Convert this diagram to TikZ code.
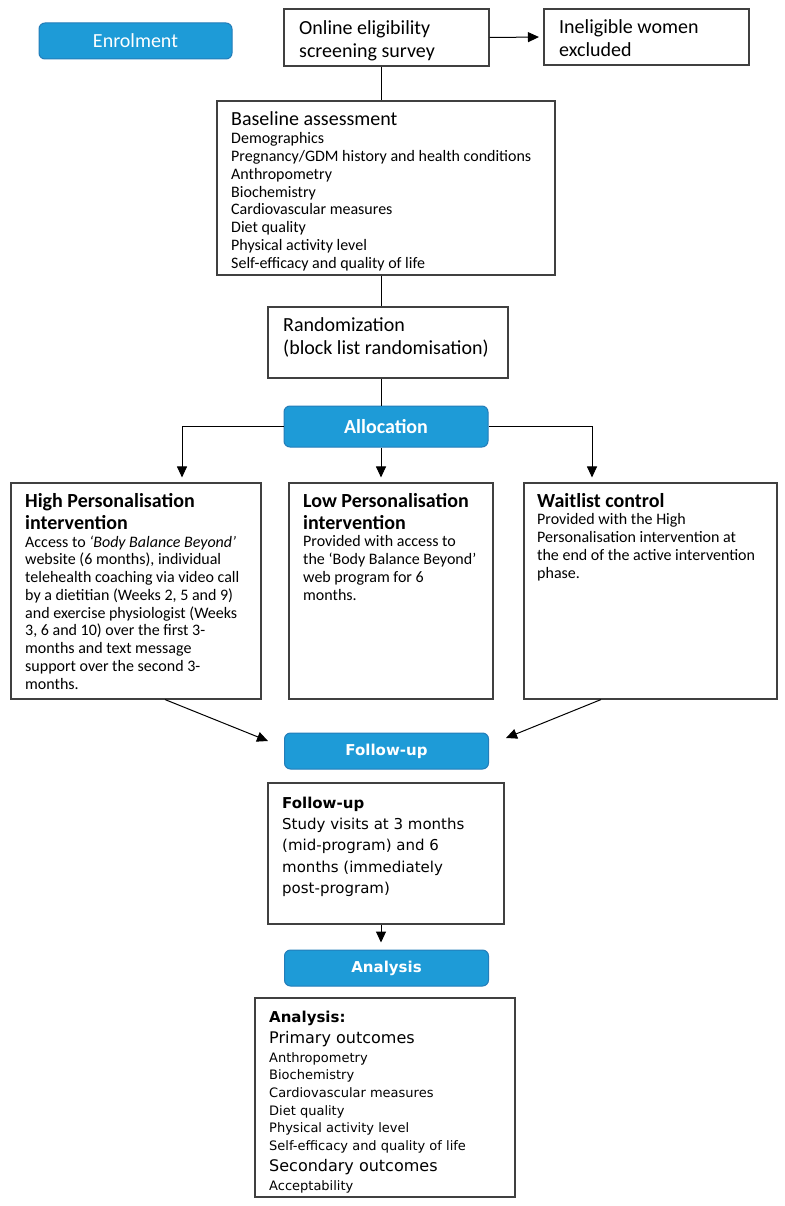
\documentclass[tikz,border=0pt]{standalone}
\usepackage{fontspec}
\setmainfont{Carlito}
\newfontfamily\vfont{DejaVu Sans}
\usetikzlibrary{arrows.meta}
\definecolor{stageblue}{RGB}{30,155,215}
\definecolor{stageedge}{RGB}{35,125,185}
\begin{document}
\begin{tikzpicture}[x=1pt, y=-1pt,
  stage/.style={draw=stageedge, fill=stageblue, line width=1pt, rounded corners=6pt, text=white, minimum width=204pt, minimum height=36pt, inner sep=0pt},
  box/.style={draw=black!75, line width=1.1pt, inner sep=0pt},
  txt/.style={anchor=north west, align=left, inner sep=0pt, font=\fontsize{16}{17.75}\selectfont},
  head/.style={txt, font=\fontsize{20}{23.3}\selectfont},
  bhead/.style={txt, font=\bfseries\fontsize{20}{21.5}\selectfont},
  vtxt/.style={txt, font=\vfont\fontsize{15}{21.3}\selectfont},
  link/.style={line width=1pt},
  arr/.style={link, -{Triangle[length=11pt, width=10pt]}}]
\path[fill=white, use as bounding box] (0,0) rectangle (784,1206);

% stages
\node[stage, minimum width=193pt, font=\fontsize{20}{24}\selectfont] (enrol) at (135.5,41) {Enrolment};
\node[stage, minimum height=41pt, font=\bfseries\fontsize{20}{24}\selectfont] (alloc) at (386,426.5) {Allocation};
\node[stage, font=\vfont\bfseries\fontsize{15}{18}\selectfont] (fup) at (386.5,751) {Follow-up};
\node[stage, font=\vfont\bfseries\fontsize{15}{18}\selectfont] (anl) at (386.5,968) {Analysis};

% boxes
\node[box, minimum width=205pt, minimum height=57pt] (online) at (386.5,37.5) {};
\node[box, minimum width=205pt, minimum height=56pt] (inel) at (646.5,37) {};
\node[box, minimum width=338pt, minimum height=174pt] (base) at (386,188) {};
\node[box, minimum width=240pt, minimum height=71pt] (rand) at (388,342.5) {};
\foreach \n/\x/\w in {high/136/250, low/391/204, wait/650.5/253}
  \node[box, minimum width=\w pt, minimum height=216pt] (\n) at (\x,591) {};
\node[box, minimum width=236pt, minimum height=141pt] (fbox) at (386,853.5) {};
\node[box, minimum width=260pt, minimum height=199pt] (abox) at (385,1097.5) {};

% texts
\node[head] (onlinet) at (299,20.6) {Online eligibility\\screening survey};
\node[head] (inelt) at (559,19.5) {Ineligible women\\excluded};
\node[head] (baset) at (231,111) {Baseline assessment};
\foreach \t [count=\i from 0] in {Demographics, Pregnancy/GDM history and health conditions,
  Anthropometry, Biochemistry, Cardiovascular measures, Diet quality,
  Physical activity level, Self-efficacy and quality of life}
  \node[txt] (b\i) at (231,{132.5+17.75*\i}) {\t};
\node[head] (randt) at (283,317.6) {Randomization\\(block list randomisation)};

\node[bhead] (hight) at (25,493.6) {High Personalisation\\intervention};
\node[txt] (highb) at (25,535.5) {Access to \textit{‘Body Balance Beyond’}\\
  website (6 months), individual\\telehealth coaching via video call\\
  by a dietitian (Weeks 2, 5 and 9)\\and exercise physiologist (Weeks\\
  3, 6 and 10) over the first 3-\\months and text message\\
  support over the second 3-\\months.};
\node[bhead] (lowt) at (303,493.6) {Low Personalisation\\intervention};
\node[txt] (lowb) at (303,535.5) {Provided with access to\\the ‘Body Balance Beyond’\\
  web program for 6\\months.};
\node[bhead] (waitt) at (537,493.6) {Waitlist control};
\node[txt] (waitb) at (537,513.5) {Provided with the High\\Personalisation intervention at\\
  the end of the active intervention\\phase.};

\node[vtxt, font=\vfont\bfseries\fontsize{15}{18}\selectfont] (fboxt) at (282,797) {Follow-up};
\node[vtxt] (fboxb) at (282,818) {Study visits at 3 months\\(mid-program) and 6\\
  months (immediately\\post-program)};

\node[vtxt, font=\vfont\bfseries\fontsize{15}{18}\selectfont] (aboxt) at (269,1011) {Analysis:};
\node[vtxt, font=\vfont\fontsize{16}{18}\selectfont] (prim) at (269,1031) {Primary outcomes};
\foreach \t [count=\i from 0] in {Anthropometry, Biochemistry, Cardiovascular measures,
  Diet quality, Physical activity level, Self-efficacy and quality of life}
  \node[vtxt, font=\vfont\fontsize{13}{16}\selectfont] (a\i) at (269,{1052.2+17.6*\i}) {\t};
\node[vtxt, font=\vfont\fontsize{16}{18}\selectfont] (sec) at (269,1159.3) {Secondary outcomes};
\node[vtxt, font=\vfont\fontsize{13}{16}\selectfont] (acc) at (269,1180.3) {Acceptability};

% connectors
\coordinate (spine) at (381,0);
\coordinate (hx) at (182,0);
\coordinate (wx) at (592,0);
\coordinate (hl) at (165,0);
\coordinate (wl) at (601,0);
\coordinate (fl) at (268,741);
\coordinate (fr) at (506,738);
\draw[arr, shorten >=4.5pt] (online.east) -- (inel.west);
\draw[link] (online.south -| spine) -- (base.north -| spine);
\draw[link] (base.south -| spine) -- (rand.north -| spine);
\draw[link] (rand.south -| spine) -- (alloc.north -| spine);
\draw[arr, shorten >=5pt] (alloc.south -| spine) -- (low.north -| spine);
\draw[arr, shorten >=5pt] (alloc.west) -| (hx |- high.north);
\draw[arr, shorten >=5pt] (alloc.east) -| (wx |- wait.north);
\draw[arr] (hl |- high.south) -- (fl);
\draw[arr] (wl |- wait.south) -- (fr);
\draw[arr, shorten >=7pt] (fbox.south -| spine) -- (anl.north -| spine);
\end{tikzpicture}
\end{document}
